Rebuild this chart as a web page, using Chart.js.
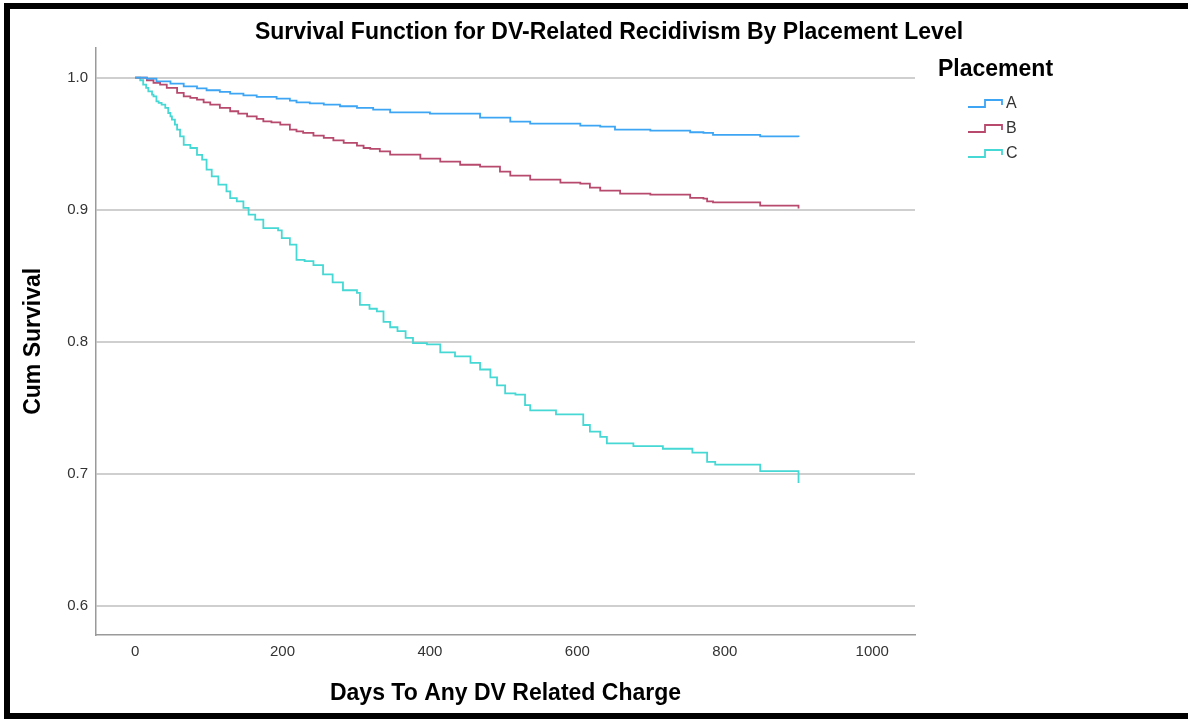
<!DOCTYPE html>
<html>
<head>
<meta charset="utf-8">
<script src="https://cdn.jsdelivr.net/npm/chart.js@4"></script>
<style>
    body { margin: 0; background: #fff; }
    #frame {
        position: absolute; left: 4px; top: 3px;
        width: 1184px; height: 716px; box-sizing: border-box;
        border-top: 6px solid #000; border-left: 6px solid #000; border-bottom: 6px solid #000;
    }
    #survival { position: absolute; left: 0; top: 0; }
</style>
</head>
<body>
<div id="frame"></div>
<canvas id="survival" width="1188" height="719"></canvas>
<script>
const chartTitle = 'Survival Function for DV-Related Recidivism By Placement Level';
const xTitle = 'Days To Any DV Related Charge';
const yTitle = 'Cum Survival';
const legendTitle = 'Placement';
const placements = ['A', 'B', 'C'];
const xTicks = [0, 200, 400, 600, 800, 1000];
const yTicks = [0.6, 0.7, 0.8, 0.9, 1.0];

// days vs cumulative survival
const aDays = [0, 16, 29, 48, 66, 84, 97, 115, 129, 147, 165, 192, 210, 219, 237, 256, 278, 301, 323, 346, 400, 468, 509, 536, 604, 631, 651, 699, 753, 771, 784, 848, 900];
const aSurv = [1.0, 0.9992, 0.9972, 0.9955, 0.9934, 0.9919, 0.9904, 0.9892, 0.9879, 0.9866, 0.9854, 0.9841, 0.9826, 0.9813, 0.9805, 0.9795, 0.9783, 0.977, 0.9758, 0.9737, 0.9727, 0.9697, 0.9667, 0.9652, 0.9636, 0.9629, 0.9606, 0.9598, 0.9586, 0.9581, 0.9566, 0.9555, 0.955];

const bDays = [0, 16, 25, 34, 43, 57, 66, 75, 84, 93, 102, 115, 129, 140, 152, 165, 174, 185, 197, 210, 219, 228, 242, 256, 269, 283, 301, 310, 319, 332, 346, 387, 414, 441, 468, 495, 509, 536, 577, 604, 617, 631, 658, 699, 753, 771, 776, 784, 848, 900];
const bSurv = [1.0, 0.998, 0.996, 0.9947, 0.9922, 0.9884, 0.9858, 0.9846, 0.9833, 0.9813, 0.9795, 0.977, 0.9745, 0.9727, 0.9707, 0.9687, 0.9669, 0.9661, 0.9644, 0.9606, 0.9593, 0.9581, 0.9561, 0.9543, 0.9525, 0.9505, 0.9485, 0.9467, 0.946, 0.9442, 0.9417, 0.9386, 0.9364, 0.934, 0.9326, 0.9288, 0.9258, 0.9227, 0.9205, 0.9197, 0.9167, 0.9144, 0.9121, 0.9114, 0.9089, 0.9083, 0.9063, 0.9055, 0.903, 0.9008];

const cDays = [0, 7, 11, 15, 18, 23, 25, 29, 32, 36, 41, 45, 48, 50, 54, 57, 61, 66, 75, 84, 91, 97, 104, 113, 124, 129, 138, 147, 154, 163, 174, 194, 199, 210, 219, 230, 242, 255, 268, 282, 301, 305, 318, 328, 337, 346, 356, 367, 377, 396, 414, 434, 455, 468, 482, 491, 502, 516, 529, 536, 571, 608, 617, 631, 640, 676, 716, 756, 776, 787, 848, 900];
const cSurv = [1.0, 0.998, 0.9947, 0.9922, 0.9896, 0.9871, 0.9858, 0.982, 0.9808, 0.9795, 0.977, 0.9732, 0.9707, 0.9682, 0.9644, 0.9606, 0.9555, 0.949, 0.9467, 0.9415, 0.9379, 0.9303, 0.9252, 0.919, 0.9139, 0.9088, 0.9063, 0.9013, 0.8962, 0.8924, 0.886, 0.8843, 0.8785, 0.8735, 0.862, 0.861, 0.858, 0.851, 0.845, 0.839, 0.837, 0.828, 0.825, 0.823, 0.815, 0.811, 0.808, 0.803, 0.799, 0.798, 0.792, 0.789, 0.784, 0.779, 0.773, 0.767, 0.761, 0.760, 0.752, 0.748, 0.745, 0.737, 0.732, 0.728, 0.723, 0.721, 0.719, 0.716, 0.709, 0.707, 0.702, 0.693];

const colors = ['#3da5f4', '#b84a6e', '#46d8d4'];
const font = '"Liberation Sans", Arial, sans-serif';

function points(days, surv) {
    return days.map((d, i) => ({ x: d, y: surv[i] }));
}

// legend with little step icons, drawn at the right like the original
const placementLegend = {
    id: 'placementLegend',
    afterDraw(chart) {
        const c = chart.ctx;
        c.save();
        c.textBaseline = 'middle';
        c.fillStyle = '#000';
        c.font = `bold 23px ${font}`;
        c.fillText(legendTitle, 938, 70);
        chart.data.datasets.forEach((ds, i) => {
            const y = 104 + i * 25;
            c.strokeStyle = ds.borderColor;
            c.lineWidth = 1.8;
            c.beginPath();
            c.moveTo(968, y + 3);
            c.lineTo(985, y + 3);
            c.lineTo(985, y - 4);
            c.lineTo(1002, y - 4);
            c.lineTo(1002, y + 1);
            c.stroke();
            c.fillStyle = '#333';
            c.font = `16px ${font}`;
            c.fillText(ds.label, 1006, y);
        });
        c.restore();
    }
};

const survival_ctx = document.getElementById('survival');

let survival = new Chart(survival_ctx, {
    type: 'line',
    data: {
        datasets: [
            { label: placements[0], data: points(aDays, aSurv), borderColor: colors[0] },
            { label: placements[1], data: points(bDays, bSurv), borderColor: colors[1] },
            { label: placements[2], data: points(cDays, cSurv), borderColor: colors[2] },
        ]
    },
    options: {
        responsive: false,
        animation: false,
        devicePixelRatio: 1,
        layout: { padding: { left: 30, right: 0, top: 0, bottom: 0 } },
        elements: {
            line: { stepped: true, borderWidth: 1.8, tension: 0, fill: false },
            point: { radius: 0 }
        },
        plugins: {
            legend: { display: false },
            tooltip: { enabled: false },
            title: {
                display: true,
                text: chartTitle,
                color: '#000',
                font: { family: font, size: 23, weight: 'bold' },
                padding: { top: 19, bottom: 1 }
            }
        },
        scales: {
            x: {
                type: 'linear',
                min: -53,
                max: 1058,
                afterBuildTicks: (s) => { s.ticks = xTicks.map(v => ({ value: v })); },
                afterFit: (s) => { s.height = 84; },
                grid: { display: false, drawTicks: false },
                border: { display: true, color: '#9a9a9a', width: 1.5 },
                ticks: {
                    color: '#333', padding: 8, font: { family: font, size: 15 },
                    callback: (v) => String(v)
                },
                title: {
                    display: true,
                    text: xTitle,
                    color: '#000',
                    font: { family: font, size: 23, weight: 'bold' },
                    padding: { top: 0, bottom: 12 }
                }
            },
            y: {
                min: 0.578,
                max: 1.0227,
                afterBuildTicks: (s) => { s.ticks = yTicks.map(v => ({ value: v })); },
                afterFit: (s) => { s.width = 66; },
                grid: { color: '#cfcfcf', lineWidth: 2, drawTicks: false },
                border: { display: true, color: '#9a9a9a', width: 1.5 },
                ticks: {
                    color: '#333', padding: 8, font: { family: font, size: 15 },
                    callback: (v) => v.toFixed(1)
                },
                title: {
                    display: true,
                    text: yTitle,
                    color: '#000',
                    font: { family: font, size: 23, weight: 'bold' },
                    padding: { top: -10, bottom: 0 }
                }
            },
            // empty space on the right that holds the legend
            legendSpace: {
                type: 'linear',
                position: 'right',
                afterFit: (s) => { s.width = 273; },
                grid: { display: false },
                border: { display: false },
                ticks: { display: false }
            }
        }
    },
    plugins: [placementLegend]
});
</script>
</body>
</html>
